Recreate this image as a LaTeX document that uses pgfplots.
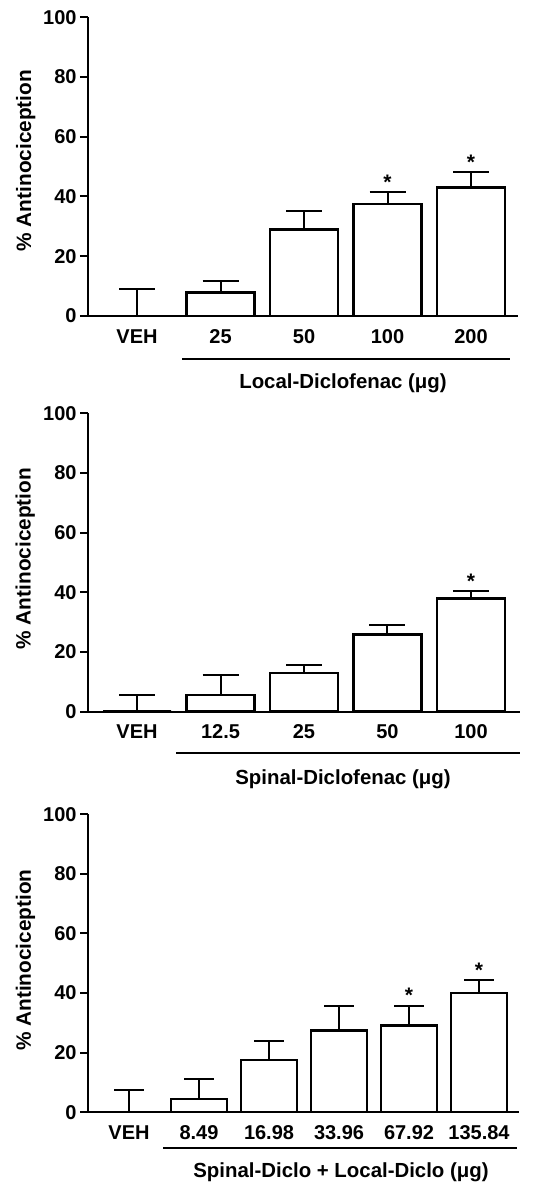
\documentclass[border=0pt]{standalone}
\usepackage{fontspec}
\setmainfont{Liberation Sans}
\usepackage{pgfplots}
\usepackage{pgfplotstable}
\pgfplotsset{compat=1.18}

% x = position, y = mean, e = upper error
\pgfplotstableread{
x y e
0 0 8.9
1 7.9 3.8
2 29.0 6.0
3 37.5 4.0
4 43.0 5.2
}\localdata
\pgfplotstableread{
x y
3 41.5
4 48.2
}\localstars

\pgfplotstableread{
x y e
0 0 5.6
1 5.6 6.6
2 12.9 2.7
3 25.9 3.1
4 38.0 2.4
}\spinaldata
\pgfplotstableread{
x y
4 40.4
}\spinalstars

\pgfplotstableread{
x y e
0 0 7.5
1 4.4 6.7
2 17.6 6.2
3 27.5 8.1
4 29.2 6.5
5 40.1 4.2
}\combodata
\pgfplotstableread{
x y
4 35.7
5 44.3
}\combostars

\pgfplotsset{
  panel/.style={
    scale only axis,
    anchor=south west,
    axis on top,
    axis lines=left,
    axis line style={-, line width=1pt},
    ymin=0, ymax=100,
    ytick={0,20,...,100},
    tick align=outside,
    major tick length=4pt,
    ytick style={line width=1pt, black},
    xtick style={draw=none},
    /pgf/number format/assume math mode=true,
    ticklabel style={font=\fontsize{10}{12}\selectfont\bfseries},
    yticklabel style={inner sep=1.5pt},
    xticklabel style={anchor=base, yshift=-9.6pt},
    ylabel={\% Antinociception},
    ylabel style={font=\fontsize{10.4}{12}\selectfont\bfseries, anchor=center},
  },
  bars/.style 2 args={ybar, bar shift=0pt, bar width=#1, fill=white, draw=black,
    line width=1.25pt,
    error bars/.cd, y dir=plus, y explicit,
    error bar style={line width=1pt, black},
    error mark options={rotate=90, mark size=#2, line width=1pt, black}},
  stars/.style={only marks, mark=*, mark size=0pt,
    mark options={draw=none, fill=none},
    nodes near coords={*},
    nodes near coords style={anchor=base, inner sep=0pt, yshift=1.5pt,
      font=\fontsize{10.5}{12}\selectfont\bfseries}},
}

\newcommand{\grouplabel}{\fontsize{10.2}{12}\selectfont\bfseries}

\begin{document}
\begin{tikzpicture}
\useasboundingbox (0,0) rectangle (272pt,593pt);

% Panel 1
\begin{axis}[panel, at={(44pt,435pt)}, width=215pt, height=149.35pt,
  xmin=-0.587, xmax=4.563,
  xtick={0,...,4}, xticklabels={VEH,25,50,100,200},
  ylabel style={at={(axis description cs:-0.145,0.52)}}]
\addplot[bars={34pt}{9pt}] table[x=x, y=y, y error=e] {\localdata};
\addplot[stars] table[x=x, y=y] {\localstars};
\end{axis}
\draw[line width=1pt] (91pt,413.5pt) -- (255pt,413.5pt);
\node[anchor=base, font=\grouplabel] at (171.5pt,398.5pt) {Local-Diclofenac (μg)};

% Panel 2
\begin{axis}[panel, at={(44pt,237.15pt)}, width=216pt, height=149.2pt,
  xmin=-0.587, xmax=4.587,
  xtick={0,...,4}, xticklabels={VEH,12.5,25,50,100},
  ylabel style={at={(axis description cs:-0.145,0.513)}}]
\addplot[bars={34pt}{9pt}] table[x=x, y=y, y error=e] {\spinaldata};
\addplot[stars] table[x=x, y=y] {\spinalstars};
\end{axis}
\draw[line width=1pt] (88pt,216.65pt) -- (260pt,216.65pt);
\node[anchor=base, font=\grouplabel] at (171.5pt,200.5pt) {Spinal-Diclofenac (μg)};

% Panel 3
\begin{axis}[panel, at={(44pt,36.85pt)}, width=215.5pt, height=149pt,
  xmin=-0.586, xmax=5.571,
  xtick={0,...,5}, xticklabels={VEH,8.49,16.98,33.96,67.92,135.84},
  ylabel style={at={(axis description cs:-0.145,0.511)}}]
\addplot[bars={28pt}{7.5pt}] table[x=x, y=y, y error=e] {\combodata};
\addplot[stars] table[x=x, y=y] {\combostars};
\end{axis}
\draw[line width=1pt] (81.5pt,19pt) -- (258.5pt,19pt);
\node[anchor=base, font=\grouplabel] at (170.5pt,4.5pt) {Spinal-Diclo + Local-Diclo (μg)};
\end{tikzpicture}
\end{document}
